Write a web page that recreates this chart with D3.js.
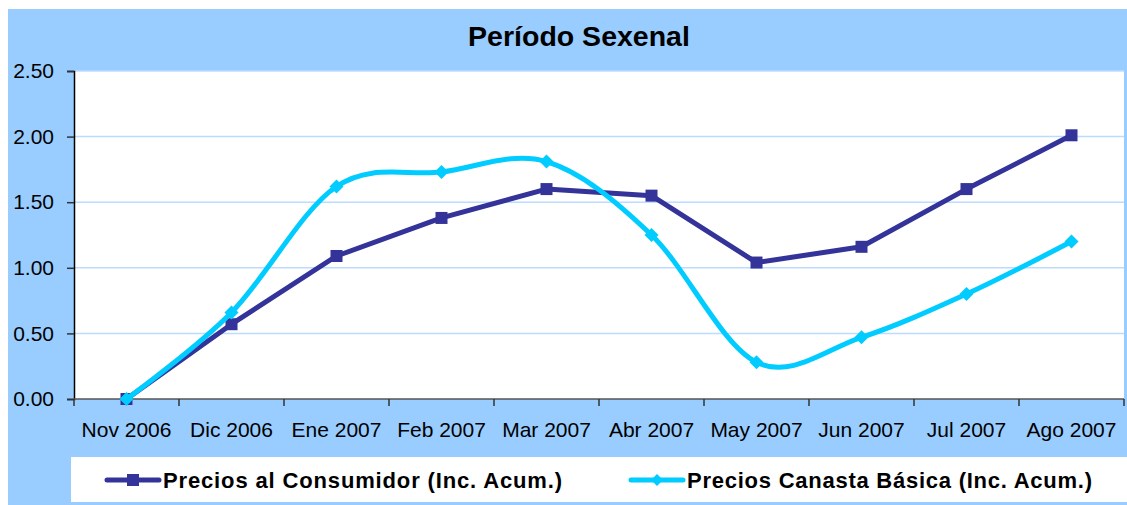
<!DOCTYPE html>
<html>
<head>
<meta charset="utf-8">
<script src="https://cdn.jsdelivr.net/npm/d3@7"></script>
<style>
  body { margin: 0; background: #fff; }
  svg { display: block; font-family: Arial, "Liberation Sans", sans-serif; }
</style>
</head>
<body>
<svg id="chart" width="1127" height="505"></svg>
<script>
const months = ["Nov 2006", "Dic 2006", "Ene 2007", "Feb 2007", "Mar 2007",
  "Abr 2007", "May 2007", "Jun 2007", "Jul 2007", "Ago 2007"];
const consumidor = [0, 0.57, 1.09, 1.38, 1.60, 1.55, 1.04, 1.16, 1.60, 2.01];
const canasta = [0, 0.66, 1.62, 1.73, 1.81, 1.25, 0.28, 0.47, 0.80, 1.20];
const yTicks = [0, 0.5, 1, 1.5, 2, 2.5];
const seriesNames = ["Precios al Consumidor (Inc. Acum.)", "Precios Canasta Básica (Inc. Acum.)"];

const svg = d3.select("#chart");

// fondo azul
svg.append("rect")
  .attr("x", 8).attr("y", 9)
  .attr("width", 1119).attr("height", 496)
  .attr("fill", "#99ccff");

const x = d3.scaleBand().domain(months).range([74, 1124]).padding(0);
const y = d3.scaleLinear().domain([0, 2.5]).range([399, 71]);

// area del grafico
svg.append("rect")
  .attr("x", 74).attr("y", 71)
  .attr("width", 1050).attr("height", 328)
  .attr("fill", "#fff");

// lineas de cuadricula
svg.append("g")
  .selectAll("line")
  .data(yTicks.slice(1))
  .join("line")
  .attr("x1", 74).attr("x2", 1124)
  .attr("y1", d => y(d)).attr("y2", d => y(d))
  .attr("stroke", "#bcdcff")
  .attr("stroke-width", 1.5);

// eje y
const yAxis = svg.append("g")
  .attr("transform", "translate(74,0)")
  .call(d3.axisLeft(y).tickValues(yTicks).tickFormat(d3.format(".2f")).tickSize(7).tickPadding(13));
yAxis.select(".domain").attr("stroke", "#000").attr("stroke-width", 1.5);
yAxis.selectAll(".tick line").attr("stroke", "#333").attr("stroke-width", 1.5);
yAxis.selectAll("text")
  .attr("font-size", 21)
  .attr("fill", "#000")
  .attr("font-family", "Arial, 'Liberation Sans', sans-serif");

// eje x
const xAxis = svg.append("g");
xAxis.append("line")
  .attr("x1", 74).attr("x2", 1124)
  .attr("y1", y(0)).attr("y2", y(0))
  .attr("stroke", "#555").attr("stroke-width", 1.5);
xAxis.selectAll("line.tick")
  .data(months.map(m => x(m)).concat([x.range()[1]]))
  .join("line")
  .attr("class", "tick")
  .attr("x1", d => d).attr("x2", d => d)
  .attr("y1", y(0)).attr("y2", y(0) + 7)
  .attr("stroke", "#333").attr("stroke-width", 1.5);
xAxis.selectAll("text")
  .data(months)
  .join("text")
  .attr("x", d => x(d) + x.bandwidth() / 2)
  .attr("y", 437)
  .attr("text-anchor", "middle")
  .attr("font-size", 21)
  .attr("fill", "#000")
  .text(d => d);

const cx = (d, i) => x(months[i]) + x.bandwidth() / 2;
const diamondPath = r => `M0,${-r}L${r},0L0,${r}L${-r},0Z`;

// serie 1: consumidor (recta)
const line1 = d3.line().x(cx).y(d => y(d));
svg.append("path")
  .datum(consumidor)
  .attr("d", line1)
  .attr("fill", "none")
  .attr("stroke", "#333399")
  .attr("stroke-width", 5)
  .attr("stroke-linejoin", "round");
svg.append("g")
  .selectAll("rect")
  .data(consumidor)
  .join("rect")
  .attr("x", (d, i) => cx(d, i) - 6)
  .attr("y", d => y(d) - 6)
  .attr("width", 12).attr("height", 12)
  .attr("fill", "#333399");

// serie 2: canasta (suavizada)
const line2 = d3.line().x(cx).y(d => y(d)).curve(d3.curveCardinal.tension(0));
svg.append("path")
  .datum(canasta)
  .attr("d", line2)
  .attr("fill", "none")
  .attr("stroke", "#00ccff")
  .attr("stroke-width", 5)
  .attr("stroke-linejoin", "round");
svg.append("g")
  .selectAll("path")
  .data(canasta)
  .join("path")
  .attr("transform", (d, i) => `translate(${cx(d, i)},${y(d)})`)
  .attr("d", diamondPath(7))
  .attr("fill", "#00ccff");

// titulo
svg.append("text")
  .attr("x", 579).attr("y", 46)
  .attr("text-anchor", "middle")
  .attr("font-size", 28.5)
  .attr("font-weight", "bold")
  .attr("fill", "#000")
  .text("Período Sexenal");

// leyenda
svg.append("rect")
  .attr("x", 71).attr("y", 457)
  .attr("width", 1056).attr("height", 45)
  .attr("fill", "#fff");

const legendItems = [
  { name: seriesNames[0], color: "#333399", x0: 107, marker: "square", w: 399 },
  { name: seriesNames[1], color: "#00ccff", x0: 631, marker: "diamond", w: 405 }
];
const lg = svg.append("g")
  .selectAll("g")
  .data(legendItems)
  .join("g")
  .attr("transform", d => `translate(${d.x0},480)`);
lg.append("line")
  .attr("x1", 0).attr("x2", 52)
  .attr("stroke", d => d.color)
  .attr("stroke-width", 5)
  .attr("stroke-linecap", "round");
lg.filter(d => d.marker === "square").append("rect")
  .attr("x", 20).attr("y", -6)
  .attr("width", 12).attr("height", 12)
  .attr("fill", d => d.color);
lg.filter(d => d.marker === "diamond").append("path")
  .attr("transform", "translate(26,0)")
  .attr("d", diamondPath(6))
  .attr("fill", d => d.color);
lg.append("text")
  .attr("x", 56).attr("y", 8)
  .attr("font-size", 22)
  .attr("font-weight", "bold")
  .attr("fill", "#000")
  .attr("textLength", d => d.w)
  .attr("lengthAdjust", "spacing")
  .text(d => d.name);
</script>
</body>
</html>
